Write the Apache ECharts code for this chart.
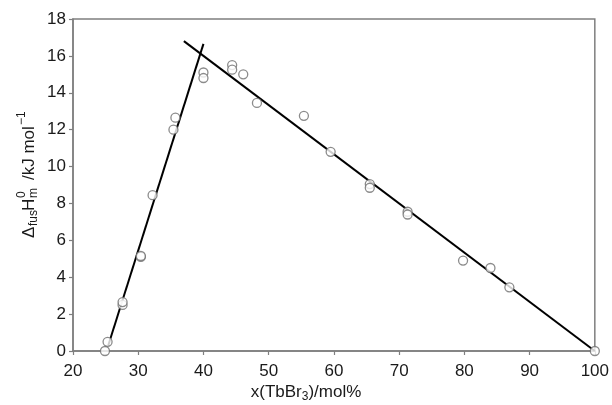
<!DOCTYPE html>
<html>
<head>
<meta charset="utf-8">
<script src="https://cdn.jsdelivr.net/npm/echarts@6/dist/echarts.min.js"></script>
<style>
html, body { margin: 0; padding: 0; background: #fff; }
#chart { width: 612px; height: 405px; }
</style>
</head>
<body>
<div id="chart"></div>
<script>
// measured points, x(TbBr3) in mol%, enthalpy in kJ/mol
var xPts = [24.9, 25.3, 27.6, 27.6, 30.4, 30.4, 32.2, 35.4, 35.7, 40.0, 40.0,
            44.4, 44.4, 46.1, 48.2, 55.4, 59.5, 65.5, 65.5, 71.3, 71.3, 79.8, 84.0, 86.9, 100];
var yPts = [0, 0.5, 2.5, 2.65, 5.1, 5.15, 8.45, 12.0, 12.65, 15.1, 14.8,
            15.5, 15.25, 15.0, 13.45, 12.75, 10.8, 9.05, 8.85, 7.55, 7.4, 4.9, 4.5, 3.45, 0];
// fitted lines, start and end
var leftLineX = [25.4, 40.0];
var leftLineY = [0.3, 16.65];
var rightLineX = [37.0, 100];
var rightLineY = [16.8, 0];

var xTicks = [20, 100, 10];
var yTicks = [0, 18, 2];

function pairs(xs, ys) {
    var out = [];
    for (var i = 0; i < xs.length; i++) out.push([xs[i], ys[i]]);
    return out;
}

var myChart = echarts.init(document.getElementById('chart'));
var axisGray = '#7f7f7f';
var font = 'Liberation Sans, Arial, sans-serif';
var ink = '#1a1a1a';

function t(str, x, y, size) {
    return { type: 'text', x: x, y: y, style: { text: str, fontSize: size, fontFamily: font, fill: ink, verticalAlign: 'middle' } };
}

var option = {
    animation: false,
    grid: { left: 73, right: 15, top: 19, bottom: 54, show: true, borderColor: axisGray, borderWidth: 1.5 },
    xAxis: {
        type: 'value',
        min: xTicks[0], max: xTicks[1], interval: xTicks[2],
        axisLine: { show: true, onZero: false, lineStyle: { color: axisGray, width: 1.5 } },
        axisTick: { show: true, length: 4, lineStyle: { color: axisGray, width: 1.2 } },
        splitLine: { show: false },
        axisLabel: { color: ink, fontSize: 17, fontFamily: font, margin: 12 }
    },
    yAxis: {
        type: 'value',
        min: yTicks[0], max: yTicks[1], interval: yTicks[2],
        axisLine: { show: true, onZero: false, lineStyle: { color: axisGray, width: 1.5 } },
        axisTick: { show: true, length: 4, lineStyle: { color: axisGray, width: 1.2 } },
        splitLine: { show: false },
        axisLabel: { color: ink, fontSize: 17, fontFamily: font, margin: 7 }
    },
    graphic: [
        {
            type: 'text', left: 'center', top: 384,
            style: {
                text: '{n|x(TbBr}{s|3}{n|)/mol%}',
                rich: {
                    n: { fontSize: 17, fontFamily: font, fill: ink },
                    s: { fontSize: 12, fontFamily: font, fill: ink, padding: [8, 0, 0, 0] }
                }
            }
        },
        {
            // rotated y-axis title with sub/superscripts
            type: 'group', x: 29, y: 238, rotation: Math.PI / 2,
            children: [
                t('Δ', 0, 0, 17),
                t('fus', 12, 5, 12),
                t('H', 27, 0, 17),
                t('0', 40, -7, 12),
                t('m', 40, 5, 12),
                t('/kJ mol', 58, 0, 17),
                t('−1', 113, -7, 12)
            ]
        }
    ],
    series: [
        {
            type: 'line', data: pairs(leftLineX, leftLineY), symbol: 'none', z: 2,
            lineStyle: { color: '#000', width: 2 }
        },
        {
            type: 'line', data: pairs(rightLineX, rightLineY), symbol: 'none', z: 2,
            lineStyle: { color: '#000', width: 2 }
        },
        {
            type: 'scatter', data: pairs(xPts, yPts), symbol: 'circle', symbolSize: 9, z: 5,
            itemStyle: { color: '#fff', borderColor: '#6e6e6e', borderWidth: 1.3 }
        }
    ]
};
myChart.setOption(option);
</script>
</body>
</html>
